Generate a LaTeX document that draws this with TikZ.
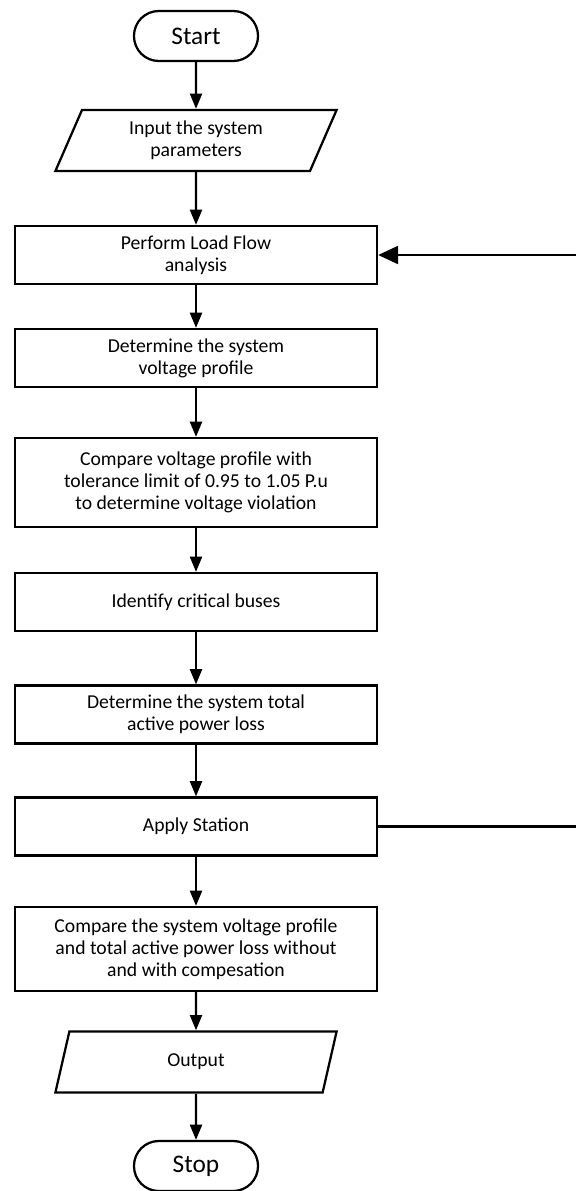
\documentclass[tikz,border=0pt]{standalone}
\usepackage{fontspec}
\setmainfont{Carlito}
\usetikzlibrary{shapes.geometric,arrows.meta}
\tikzset{
    term/.style={draw, rectangle, rounded corners=0.62cm, minimum width=3.1cm, minimum height=1.25cm,
        font=\fontsize{18}{20}\selectfont},
    io/.style={draw, trapezium, trapezium left angle=61, trapezium right angle=119,
        trapezium stretches body, minimum width=7.03cm, minimum height=1.53cm, align=center},
    proc/.style={draw, rectangle, minimum width=9.05cm, minimum height=1.45cm, align=center},
    flow/.style={-{Triangle[length=0.38cm,width=0.3cm]}},
    back/.style={-{Triangle[length=0.5cm,width=0.45cm]}},
}
\begin{document}
\begin{tikzpicture}
    [x=0.025cm, y=-0.025cm, line width=1.6pt, font=\fontsize{14}{15.6}\selectfont]
    \useasboundingbox (0,0) rectangle (576,1191);
    %terminals and input/output
    \node[term] (start) at (196,36) {Start};
    \node[io] (input) at (196,140.5) {Input the system\\parameters};
    \node[io] (output) at (196,1062) {Output};
    \node[term] (stop) at (196,1166) {Stop};
    %process boxes
    \node[proc] (loadflow) at (196,255) {Perform Load Flow\\analysis};
    \node[proc] (profile) at (196,358) {Determine the system\\voltage profile};
    \node[proc, minimum height=2.225cm] (compare) at (196,482.5)
        {Compare voltage profile with\\tolerance limit of 0.95 to 1.05 P.u\\to determine voltage violation};
    \node[proc] (critical) at (196,602) {Identify critical buses};
    \node[proc] (loss) at (196,714.5) {Determine the system total\\active power loss};
    \node[proc] (station) at (196,826.5) {Apply Station};
    \node[proc, minimum height=2.1cm] (result) at (196,949)
        {Compare the system voltage profile\\and total active power loss without\\and with compesation};
    %arrows down the chart
    \draw[flow] (start) -- (input);
    \draw[flow] (input) -- (loadflow);
    \draw[flow] (loadflow) -- (profile);
    \draw[flow] (profile) -- (compare);
    \draw[flow] (compare) -- (critical);
    \draw[flow] (critical) -- (loss);
    \draw[flow] (loss) -- (station);
    \draw[flow] (station) -- (result);
    \draw[flow] (result) -- (output);
    \draw[flow] (output) -- (stop);
    %loop back to load flow
    \coordinate (backin) at (576,255);
    \coordinate (backout) at (576,826.5);
    \draw (station.east) -- (backout);
    \draw[back] (backin) -- (loadflow.east);
\end{tikzpicture}
\end{document}
